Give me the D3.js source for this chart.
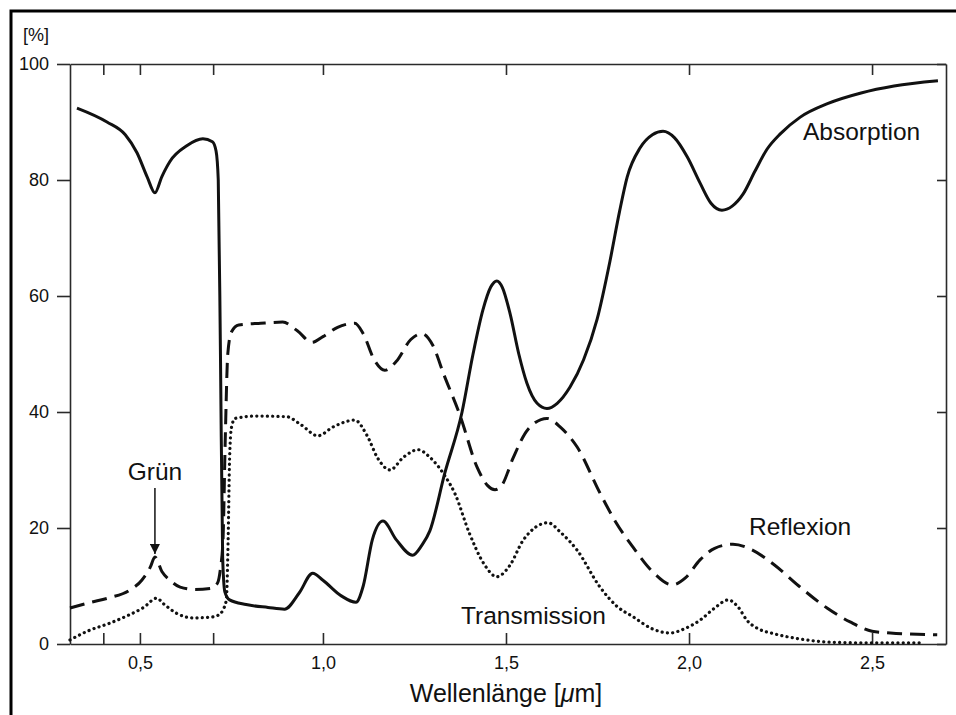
<!DOCTYPE html>
<html>
<head>
<meta charset="utf-8">
<script src="https://cdn.jsdelivr.net/npm/d3@7"></script>
<style>
  body { margin: 0; background: #fff; }
  svg text { font-family: "Liberation Sans", Arial, sans-serif; fill: #111; }
</style>
</head>
<body>
<svg id="chart" width="956" height="715"></svg>
<script>
// Wellenlänge in µm, Werte in %
const absWave = [0.328, 0.41, 0.46, 0.492, 0.52, 0.541, 0.56, 0.582, 0.628, 0.672, 0.698, 0.708, 0.714, 0.72, 0.726, 0.732, 0.745, 0.79, 0.85, 0.895, 0.935, 0.972, 1.0, 1.05, 1.09, 1.11, 1.135, 1.164, 1.2, 1.245, 1.27, 1.292, 1.333, 1.38, 1.41, 1.437, 1.458, 1.475, 1.49, 1.511, 1.535, 1.557, 1.585, 1.612, 1.64, 1.675, 1.712, 1.749, 1.784, 1.81, 1.831, 1.866, 1.9, 1.929, 1.96, 1.995, 2.03, 2.06, 2.09, 2.118, 2.148, 2.18, 2.213, 2.25, 2.303, 2.38, 2.47, 2.56, 2.68];
const absValues = [92.4, 90, 87.8, 84.7, 80.5, 77.8, 80.6, 83.2, 85.9, 87.1, 86.6, 85, 80, 50, 15, 9, 7.6, 6.8, 6.3, 6.0, 8.8, 12.2, 11, 8.3, 7.2, 10, 18, 21.2, 18, 15.3, 17, 19.5, 29.5, 40, 50, 57.6, 61.5, 62.6, 61.5, 57, 50, 45, 41.5, 40.6, 41.5, 44.3, 49, 56, 66, 74.5, 80.5, 85.5, 87.8, 88.4, 87.3, 84, 79.5, 76, 74.8, 75.5, 77.6, 81.5, 85.3, 88, 90.8, 93.2, 95, 96.2, 97.1];

const refWave = [0.309, 0.36, 0.418, 0.47, 0.505, 0.528, 0.541, 0.56, 0.582, 0.61, 0.65, 0.695, 0.712, 0.72, 0.727, 0.733, 0.74, 0.75, 0.77, 0.83, 0.89, 0.93, 0.97, 1.0, 1.04, 1.087, 1.11, 1.14, 1.169, 1.2, 1.24, 1.27, 1.3, 1.33, 1.374, 1.421, 1.45, 1.47, 1.49, 1.519, 1.56, 1.612, 1.65, 1.694, 1.757, 1.8, 1.847, 1.9, 1.954, 1.99, 2.03, 2.07, 2.12, 2.17, 2.23, 2.3, 2.377, 2.44, 2.5, 2.55, 2.678];
const refValues = [6.2, 7.1, 8.0, 9.2, 11, 13.2, 15, 12.5, 11, 9.8, 9.4, 9.6, 10.5, 13, 18, 35, 50, 53.8, 55, 55.3, 55.5, 54, 52, 53, 54.6, 55.3, 53.5, 49, 47.2, 48.7, 52.5, 53.5, 51.5, 46.5, 39.5, 30.5, 27.3, 26.6, 27.5, 32, 37, 38.9, 37.3, 34, 26, 21, 16.7, 12.5, 10.2, 11.4, 14.5, 16.5, 17.2, 16.3, 13.8, 10, 6.2, 3.8, 2.2, 1.9, 1.6];

const traWave = [0.309, 0.36, 0.418, 0.47, 0.51, 0.546, 0.565, 0.6, 0.645, 0.69, 0.715, 0.727, 0.736, 0.741, 0.745, 0.75, 0.76, 0.82, 0.9, 0.94, 0.986, 1.03, 1.087, 1.12, 1.15, 1.183, 1.22, 1.26, 1.292, 1.333, 1.36, 1.4, 1.44, 1.475, 1.51, 1.547, 1.615, 1.65, 1.694, 1.757, 1.803, 1.847, 1.9, 1.948, 1.99, 2.03, 2.07, 2.107, 2.135, 2.158, 2.19, 2.23, 2.3, 2.393, 2.5, 2.64];
const traValues = [0.7, 2.3, 3.6, 5.0, 6.3, 7.9, 6.9, 5.3, 4.5, 4.6, 5.0, 5.9, 7.6, 18, 32, 37.3, 38.9, 39.3, 39.2, 37.8, 35.9, 37.5, 38.6, 36, 32, 30, 32.2, 33.5, 32.2, 29, 26, 19.1, 13.8, 11.6, 13.5, 17.9, 20.9, 19.2, 16.2, 9.8, 6.5, 4.7, 2.6, 1.9, 2.7, 4.1, 6.2, 7.6, 6.3, 4.1, 2.6, 1.8, 0.9, 0.3, 0.2, 0.2];

const xTicks = [0.4, 0.5, 0.7, 1.0, 1.5, 2.0, 2.5];
const xLabels = { 0.5: "0,5", 1.0: "1,0", 1.5: "1,5", 2.0: "2,0", 2.5: "2,5" };
const yTicks = [0, 20, 40, 60, 80, 100];

const svg = d3.select("#chart");

// outer frame (top + left edge of the scan)
svg.append("path").attr("d", "M11,715 V11 H956")
    .attr("fill", "none").attr("stroke", "#000").attr("stroke-width", 3);

// Scales
const x = d3.scaleLinear().domain([0.309, 2.702]).range([70, 946]);
const y = d3.scaleLinear().domain([0, 100]).range([644, 64]);

// Axes
const axisColor = "#2a2a2a";
const styleAxis = g => {
    g.selectAll("path, line").attr("stroke", axisColor).attr("stroke-width", 1.6);
    g.selectAll("text").attr("font-size", 18).attr("fill", "#111")
        .attr("font-family", '"Liberation Sans", Arial, sans-serif');
};
svg.append("g").attr("transform", "translate(0,644)")
    .call(d3.axisBottom(x).tickValues(xTicks).tickSize(-11).tickSizeOuter(0)
        .tickPadding(12).tickFormat(d => xLabels[d] || ""))
    .call(styleAxis);
svg.append("g").attr("transform", "translate(0,64)")
    .call(d3.axisTop(x).tickValues(xTicks).tickSize(-11).tickSizeOuter(0).tickFormat(""))
    .call(styleAxis);
svg.append("g").attr("transform", "translate(70,0)")
    .call(d3.axisLeft(y).tickValues(yTicks).tickSize(13).tickSizeOuter(0).tickPadding(8))
    .call(styleAxis);
svg.append("g").attr("transform", "translate(946,0)")
    .call(d3.axisRight(y).tickValues(yTicks).tickSize(-9).tickSizeOuter(0).tickFormat(""))
    .call(styleAxis);

// Curves
const line = d3.line().x(d => x(d[0])).y(d => y(d[1])).curve(d3.curveMonotoneX);
const zip = (a, b) => a.map((v, i) => [v, b[i]]);

svg.append("path").datum(zip(traWave, traValues))
    .attr("fill", "none").attr("stroke", "#111").attr("stroke-width", 3.2)
    .attr("stroke-linecap", "round").attr("stroke-dasharray", "0.1 5.2")
    .attr("d", line);
svg.append("path").datum(zip(refWave, refValues))
    .attr("fill", "none").attr("stroke", "#111").attr("stroke-width", 3)
    .attr("stroke-dasharray", "15 8")
    .attr("d", line);
svg.append("path").datum(zip(absWave, absValues))
    .attr("fill", "none").attr("stroke", "#111").attr("stroke-width", 3)
    .attr("stroke-linejoin", "round")
    .attr("d", line);

// Labels
svg.append("text").attr("x", 23).attr("y", 41).attr("font-size", 18).text("[%]");
const axisTitle = svg.append("text").attr("x", 506).attr("y", 702)
    .attr("text-anchor", "middle").attr("font-size", 25);
axisTitle.append("tspan").text("Wellenlänge [");
axisTitle.append("tspan").attr("font-style", "italic").text("μ");
axisTitle.append("tspan").text("m]");

svg.append("text").attr("x", 803).attr("y", 140).attr("font-size", 24.5).text("Absorption");
svg.append("text").attr("x", 749).attr("y", 535).attr("font-size", 24.5).text("Reflexion");
svg.append("text").attr("x", 461).attr("y", 624).attr("font-size", 24.5).text("Transmission");
svg.append("text").attr("x", 155).attr("y", 480).attr("text-anchor", "middle")
    .attr("font-size", 24.5).text("Grün");

// Arrow to the green peak
svg.append("defs").append("marker").attr("id", "head")
    .attr("viewBox", "0 0 10 10").attr("refX", 10).attr("refY", 5)
    .attr("markerWidth", 10).attr("markerHeight", 10).attr("markerUnits", "userSpaceOnUse")
    .attr("orient", "auto")
    .append("path").attr("d", "M0,0 L10,5 L0,10 Z").attr("fill", "#111");
svg.append("line")
    .attr("x1", x(0.541)).attr("y1", 488).attr("x2", x(0.541)).attr("y2", 554)
    .attr("stroke", "#111").attr("stroke-width", 1.5).attr("marker-end", "url(#head)");
</script>
</body>
</html>
